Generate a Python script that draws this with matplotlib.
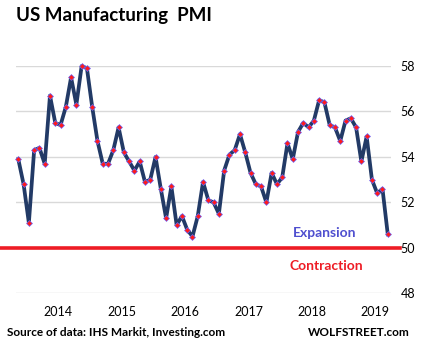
import matplotlib
matplotlib.use("Agg")
from matplotlib import pyplot as plt
from matplotlib import transforms

plt.rcParams['font.family'] = ['Lato', 'DejaVu Sans']

# monthly PMI, Jul 2013 .. May 2019
pmi = [53.9, 52.8, 51.1, 54.3, 54.4, 53.7, 56.7, 55.5, 55.4, 56.2, 57.5, 56.3,
       58.0, 57.9, 56.2, 54.7, 53.7, 53.7, 54.3, 55.3, 54.2, 53.8, 53.4, 53.8,
       52.9, 53.0, 54.0, 52.6, 51.3, 52.7, 51.0, 51.4, 50.8, 50.5, 51.4, 52.9,
       52.1, 52.0, 51.5, 53.4, 54.1, 54.3, 55.0, 54.2, 53.3, 52.8, 52.7, 52.0,
       53.3, 52.8, 53.1, 54.6, 53.9, 55.1, 55.5, 55.3, 55.6, 56.5, 56.4, 55.4,
       55.3, 54.7, 55.6, 55.7, 55.3, 53.8, 54.9, 53.0, 52.4, 52.6, 50.6]
years = ["2014", "2015", "2016", "2017", "2018", "2019"]
year_pos = [7.6, 19.6, 31.6, 43.6, 55.6, 67.6]
yticks = [48, 50, 52, 54, 56, 58]

fig = plt.figure(figsize=(4.23, 3.53), dpi=100)
ax = fig.add_axes([0.0378, 0.169, 0.886, 0.644])

x = range(len(pmi))
ax.plot(x, pmi, color="#223a66", linewidth=2.7, marker="D", markersize=3.0,
        markerfacecolor="#ff1a1a", markeredgecolor="#6a6aff", markeredgewidth=0.5,
        clip_on=False, zorder=3)

ax.set_xlim(-0.44, 70.57)
ax.set_ylim(48, 58)
ax.set_yticks(yticks)
ax.set_xticks(year_pos)
ax.set_xticklabels(years)
ax.yaxis.tick_right()
ax.tick_params(axis="y", length=0, pad=7, labelsize=9)
ax.tick_params(axis="x", length=0, pad=9, labelsize=9)
ax.grid(axis="y", color="#d9d9d9", linewidth=1)
ax.set_axisbelow(True)
for s in ax.spines.values():
    s.set_visible(False)

# red 50 line across the whole figure width
trans = transforms.blended_transform_factory(fig.transFigure, ax.transData)
ax.plot([0, 400 / 423], [50, 50], color="#ee1c25", linewidth=2.6,
        transform=trans, clip_on=False, zorder=2)

ax.text(58.0, 50.65, "Expansion", color="#4f4fcf", fontsize=10, fontweight="bold",
        ha="center", va="center")
ax.text(58.4, 49.2, "Contraction", color="#ee1c25", fontsize=10, fontweight="bold",
        ha="center", va="center")

fig.text(16 / 423, 1 - 15 / 353, "US Manufacturing  PMI", fontsize=13.5,
         fontweight="bold", ha="left", va="center")
fig.text(7 / 423, 1 - 333 / 353, "Source of data: IHS Markit, Investing.com",
         fontsize=8.5, fontweight="bold", ha="left", va="center")
fig.text(410 / 423, 1 - 333 / 353, "WOLFSTREET.com", fontsize=8.5,
         fontweight="bold", ha="right", va="center")

plt.savefig("out.png", dpi=100)
